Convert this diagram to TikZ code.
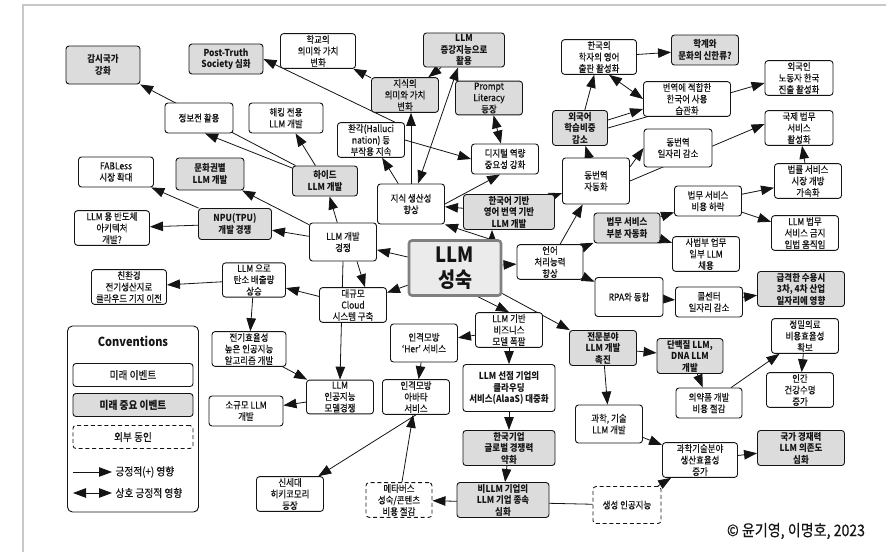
\documentclass[tikz,border=0pt]{standalone}
\usepackage{fontspec}
\setmainfont{Noto Sans CJK KR}[FakeStretch=0.88,UprightFeatures={FakeBold=0.4}]
\usetikzlibrary{arrows.meta}
\pgfdeclarelayer{bg}
\pgfsetlayers{bg,main}
\definecolor{keyfill}{HTML}{DCDCDC}
\definecolor{inkline}{HTML}{141414}
\definecolor{framegray}{HTML}{C8C8C8}
\newcommand{\enode}[4]{\node(#1)[item,#3] at (#2) {#4}}
\newcommand{\knode}[4]{\node(#1)[item,keyitem,#3] at (#2) {#4}}
\newcommand{\xnode}[4]{\node(#1)[item,ext,#3] at (#2) {#4}}

\begin{document}
\begin{tikzpicture}[x=1pt,y=-1pt,
    every node/.style={font=\fontsize{9.6}{11.5}\selectfont,text=inkline},
    item/.style={rectangle,rounded corners=3pt,draw=inkline,line width=0.9pt,
                 fill=white,align=center,minimum width=67pt,minimum height=30pt,inner sep=1.5pt},
    keyitem/.style={fill=keyfill,font=\fontsize{9.6}{11.5}\selectfont\bfseries},
    ext/.style={dash pattern=on 4pt off 2.8pt},
    legend/.style={font=\fontsize{11}{13}\selectfont,minimum width=120pt,minimum height=23pt},
    >={Triangle[length=13pt,width=9.5pt]}
  ]
  \useasboundingbox (0,0) rectangle (886,552);

  % top row
  \knode{gamsi}{103,65}{minimum width=74pt,minimum height=38pt}{감시국가\\강화};
  \knode{posttruth}{226,59}{minimum width=74pt}{Post-Truth\\Society 심화};
  \enode{school}{318,51}{minimum width=75pt}{학교의\\의미와 가치\\변화};
  \knode{augment}{464,50}{minimum width=81pt}{LLM\\증강지능으로\\활용};
  \enode{knowmean}{405,95}{fill=keyfill}{지식의\\의미와 가치\\변화};
  \enode{prompt}{489,98}{fill=keyfill}{Prompt\\Literacy\\등장};
  \enode{infowar}{199,118}{minimum width=68pt}{정보전 활용};
  \enode{hacking}{286,118}{minimum width=74pt}{해킹 전용\\LLM 개발};
  \enode{halluc}{371,140}{}{환각(Halluci\\nation) 등\\부작용 지속};
  \enode{digital}{505,159}{}{디지털 역량\\중요성 강화};
  \enode{scholar}{599,57}{minimum width=75pt}{한국의\\학자의 영어\\출판 활성화};
  \knode{hallyu}{705,50}{}{학계와\\문화의 신한류?};
  \enode{habit}{687,99}{minimum width=87pt}{번역에 적합한\\한국어 사용\\습관화};
  \enode{foreign}{799,78}{minimum width=68pt}{외국인\\노동자 한국\\진출 활성화};
  \knode{langlearn}{580,128}{minimum width=55pt}{외국어\\학습비중\\감소};
  \enode{interpjob}{678,148}{minimum width=68pt,minimum height=38pt}{동번역\\일자리 감소};
  \enode{intlegal}{799,128}{minimum width=68pt}{국제 법무\\서비스\\활성화};
  \enode{interp}{596,181}{minimum height=46pt}{동번역\\자동화};
  \enode{legalopen}{808,181}{}{법률 서비스\\시장 개방\\가속화};

  % middle
  \enode{fabless}{116,172}{minimum width=75pt}{FABLess\\시장 확대};
  \knode{culture}{210,174}{minimum width=68pt,minimum height=32pt}{문화권별\\LLM 개발};
  \knode{hide}{325,181}{minimum width=65pt}{하이드\\LLM 개발};
  \enode{knowprod}{411,204}{minimum height=40pt}{지식 생산성\\향상};
  \knode{koreng}{509,212}{minimum width=91pt}{한국어 기반\\영어 번역 기반\\LLM 개발};
  \enode{semi}{112,228}{minimum width=75pt}{LLM 용 반도체\\아키텍처\\개발?};
  \knode{npu}{235,224}{minimum width=73pt,minimum height=31pt}{NPU(TPU)\\개발 경쟁};
  \enode{compete}{343,242}{minimum height=38pt}{LLM 개발\\경쟁};
  \node(mature)[item,fill=black!8,draw=black!50,line width=2.6pt,minimum width=92pt,minimum height=55pt,
        font=\fontsize{21}{25}\selectfont\bfseries] at (455,268) {LLM\\성숙};
  \enode{nlp}{550,262}{minimum width=66pt}{언어\\처리능력\\향상};
  \knode{legalauto}{627,228}{minimum width=66pt}{법무 서비스\\부분 자동화};
  \enode{legalcost}{708,201}{}{법무 서비스\\비용 하락};
  \enode{legalban}{805,233}{}{LLM 법무\\서비스 금지\\입법 움직임};
  \enode{judiciary}{706,254}{}{사법부 업무\\일부 LLM\\채용};
  \enode{green}{129,287}{minimum width=75pt}{친환경\\전기생산지로\\클라우드 기지 이전};
  \enode{carbon}{254,280}{minimum width=63pt}{LLM 으로\\탄소 배출량\\상승};
  \enode{cloud}{353,305}{}{대규모\\Cloud\\시스템 구축};
  \enode{rpa}{629,297}{minimum width=68pt,minimum height=39pt}{RPA와 동합};
  \enode{callcenter}{709,302}{}{콜센터\\일자리 감소};
  \knode{jobs}{801,289}{minimum width=87pt}{급격한 수용시\\3차, 4차 산업\\일자리에 영향};

  % bottom
  \enode{efficient}{249,349}{minimum width=74pt}{전기효율성\\높은 인공지능\\알고리즘 개발};
  \enode{her}{424,343}{minimum height=38pt}{인격모방\\`Her' 서비스};
  \enode{bizmodel}{509,330}{}{LLM 기반\\비즈니스\\모델 폭팔};
  \knode{special}{603,348}{}{전문분야\\LLM 개발\\촉진};
  \knode{protein}{690,356}{minimum width=66pt}{단백질 LLM,\\DNA LLM\\개발};
  \enode{precision}{805,336}{}{정밀의료\\비용효율성\\확보};
  \enode{smallllm}{246,411}{minimum width=74pt}{소규모 LLM\\개발};
  \enode{modelcomp}{340,397}{}{LLM\\인공지능\\모델경쟁};
  \enode{avatar}{416,397}{}{인격모방\\아바타\\서비스};
  \enode{aiaas}{509,388}{minimum width=92pt,minimum height=47pt,
        font=\fontsize{9.6}{11.5}\selectfont\bfseries}{LLM 선점 기업의\\클라우딩\\서비스(AlaaS) 대중화};
  \knode{weaken}{509,448}{minimum width=92pt}{한국기업\\글로벌 경쟁력\\약화};
  \knode{depend}{503,500}{minimum width=92pt}{비LLM 기업의\\LLM 기업 종속\\심화};
  \enode{scitech}{609,424}{minimum height=38pt}{과학, 기술\\LLM 개발};
  \enode{drug}{709,403}{minimum width=66pt}{의약품 개발\\비용 절감};
  \enode{health}{800,390}{}{인간\\건강수명\\증가};
  \enode{sciprod}{700,460}{minimum width=75pt}{과학기술분야\\생산효율성\\증가};
  \knode{national}{801,448}{minimum width=87pt}{국가 경재력\\LLM 의존도\\심화};
  \enode{hikiko}{290,494}{}{신세대\\히키코모리\\등장};
  \xnode{metaverse}{399,500}{minimum width=66pt}{메타버스\\성숙/콘텐츠\\비용 절감};
  \xnode{genai}{627,505}{minimum width=68pt,minimum height=37pt}{생성 인공지능};

  % conventions
  \node(conv)[draw=inkline,line width=0.9pt,rounded corners=5pt,minimum width=131pt,minimum height=186pt] at (133,419) {};
  \node(convtitle)[font=\fontsize{12.5}{14}\selectfont\bfseries] at (133,341) {Conventions};
  \enode{lgevent}{133,375}{legend}{미래 이벤트};
  \knode{lgkey}{133,405}{legend,font=\fontsize{11}{13}\selectfont\bfseries}{미래 중요 이벤트};
  \xnode{lgext}{133,437}{legend}{외부 동인};
  \node(lgpos)[anchor=west,font=\fontsize{11}{13}\selectfont] at (112,472) {긍정적(+) 영향};
  \node(lgmut)[anchor=west,font=\fontsize{11}{13}\selectfont] at (112,493) {상호 긍정적 영향};
  \coordinate(lgposa) at (73,472);
  \coordinate(lgmuta) at (73,493);

  \node(copyright)[font=\fontsize{16}{18}\selectfont] at (796,531) {© 윤기영, 이명호, 2023};

  \begin{pgfonlayer}{bg}
    \draw[framegray,line width=1.6pt] (23,552) -- (23,5) -- (886,5);
    \path[inkline,line width=0.8pt]
      (lgposa) edge[->] (lgpos.west)
      (lgmuta) edge[<->] (lgmut.west)
      % knowledge side
      (hide) edge[->] (gamsi)
      (hide) edge[->] ([xshift=6pt]infowar.south)
      (hide) edge[->] (hacking)
      ([xshift=-10pt]halluc.north east) edge[->] (posttruth.east)
      (halluc.east) edge[->] (digital.west)
      (knowmean) edge[->] (school)
      (augment) edge[->] (knowmean)
      (knowprod.north) edge[->] ([xshift=6pt]knowmean.south)
      (knowprod) edge[<->] (augment)
      (knowprod) edge[->] (halluc)
      (prompt) edge[<->] (digital)
      (knowprod.east) edge[->] ([xshift=-5pt]digital.south)
      (koreng) edge[->] (knowprod)
      (koreng) edge[->] (interp)
      % from maturity
      ([xshift=35pt]mature.north) edge[->] (knowprod.south east)
      ([xshift=37pt]mature.center) edge[->] ([xshift=-17pt]koreng.south)
      (mature) edge[->] (compete)
      (mature) edge[->] (cloud)
      (mature) edge[->] (nlp)
      ([xshift=23pt]mature.south) edge[->] (bizmodel.north)
      (mature) edge[->] (special)
      % competition
      (compete) edge[->] (culture)
      (compete) edge[->] (hide)
      (compete) edge[->] (npu)
      ([xshift=14pt]compete.south) edge[->] ([xshift=12pt]cloud.north)
      (compete.south) edge[->] (modelcomp.north)
      (npu) edge[->] (semi)
      (npu) edge[->] (fabless)
      (cloud) edge[->] (carbon)
      (carbon) edge[->] (green)
      (carbon) edge[->] (efficient)
      (efficient) edge[->] (modelcomp)
      (modelcomp) edge[->] (smallllm)
      % business
      (bizmodel) edge[->] (her)
      (bizmodel) edge[->] (aiaas)
      (her) edge[->] (avatar)
      (avatar.south) edge[->] (hikiko)
      (metaverse) edge[->] (avatar)
      (genai) edge[->] (metaverse)
      (genai) edge[->] (sciprod)
      (aiaas) edge[->] (weaken)
      (weaken) edge[->] (depend)
      % special domains
      (special) edge[->] (protein)
      (special) edge[->] (scitech)
      (scitech) edge[->] (sciprod)
      (sciprod) edge[->] (national)
      (protein) edge[->] (drug)
      (drug) edge[->] (precision)
      (precision) edge[->] (health)
      % language
      (nlp) edge[->] (interp)
      (nlp) edge[->] (legalauto)
      (nlp) edge[->] (rpa)
      (rpa) edge[->] (callcenter)
      (callcenter) edge[->] (jobs)
      (legalauto) edge[->] (legalcost)
      (legalauto) edge[->] (judiciary)
      (legalcost) edge[->] (legalopen)
      (legalcost) edge[->] (legalban)
      (legalopen) edge[->] (intlegal)
      ([yshift=14pt]interp.east) edge[->] (interpjob.west)
      (interp.east) edge[->] ([yshift=4pt]intlegal.west)
      (interp) edge[->] (langlearn)
      (langlearn) edge[->] (scholar)
      ([xshift=10pt]scholar.south) edge[<->] (habit.west)
      ([yshift=8pt]langlearn.east) edge[->] ([yshift=-10pt]habit.west)
      (langlearn.east) edge[->] ([yshift=-5pt]foreign.west)
      (scholar) edge[->] (hallyu);
  \end{pgfonlayer}
\end{tikzpicture}
\end{document}
